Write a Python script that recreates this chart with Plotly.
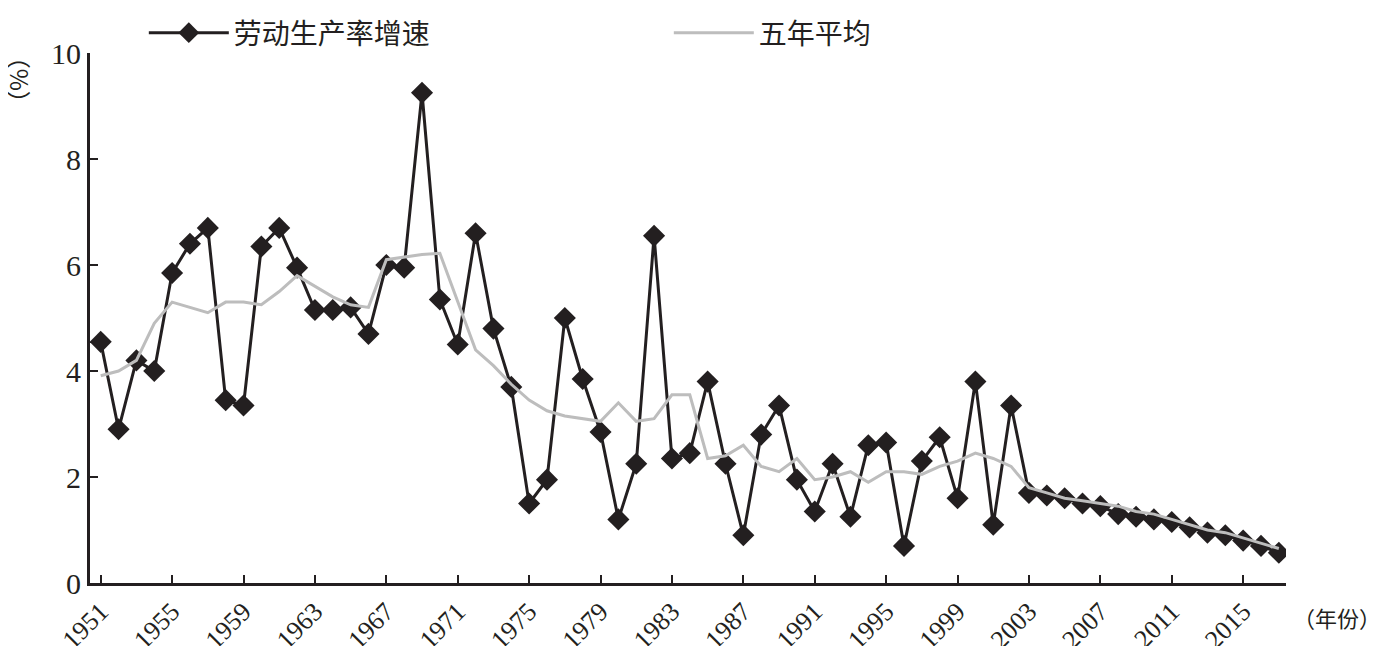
import plotly.graph_objects as go

years = list(range(1951, 2018))
growth = [4.55, 2.9, 4.2, 4.0, 5.85, 6.4, 6.7, 3.45, 3.35, 6.35,
          6.7, 5.95, 5.15, 5.15, 5.2, 4.7, 6.0, 5.95, 9.25, 5.35,
          4.5, 6.6, 4.8, 3.7, 1.5, 1.95, 5.0, 3.85, 2.85, 1.2,
          2.25, 6.55, 2.35, 2.45, 3.8, 2.25, 0.9, 2.8, 3.35, 1.95,
          1.35, 2.25, 1.25, 2.6, 2.65, 0.7, 2.3, 2.75, 1.6, 3.8,
          1.1, 3.35, 1.7, 1.65, 1.6, 1.5, 1.45, 1.3, 1.25, 1.2,
          1.15, 1.05, 0.95, 0.9, 0.8, 0.7, 0.57]
avg5 = [3.91, 4.0, 4.2, 4.9, 5.3, 5.2, 5.1, 5.3, 5.3, 5.25,
        5.5, 5.8, 5.6, 5.4, 5.25, 5.2, 6.1, 6.15, 6.2, 6.22,
        5.3, 4.4, 4.1, 3.75, 3.45, 3.25, 3.15, 3.1, 3.05, 3.4,
        3.05, 3.1, 3.55, 3.55, 2.35, 2.4, 2.6, 2.2, 2.1, 2.35,
        1.95, 2.0, 2.1, 1.9, 2.1, 2.1, 2.05, 2.2, 2.3, 2.45,
        2.35, 2.2, 1.8, 1.7, 1.6, 1.55, 1.5, 1.45, 1.35, 1.3,
        1.2, 1.1, 1.0, 0.95, 0.85, 0.75, 0.65]
tick_years = list(range(1951, 2016, 4))

serif = "Liberation Serif, Times New Roman, serif"

fig = go.Figure()
fig.add_trace(go.Scatter(x=years, y=growth, name="劳动生产率增速",
                         mode="lines+markers",
                         line=dict(color="#231f20", width=3),
                         marker=dict(symbol="diamond", size=17, color="#231f20")))
fig.add_trace(go.Scatter(x=years, y=avg5, name="五年平均", mode="lines",
                         line=dict(color="#bdbdbd", width=3)))

fig.update_layout(
    width=1388, height=646,
    margin=dict(l=82, r=110, t=45, b=71, autoexpand=False),
    plot_bgcolor="white", paper_bgcolor="white",
    font=dict(family=serif, size=30, color="#231f20"),
    legend=dict(orientation="h", x=0.045, xanchor="left", y=1.0, yref="container",
                yanchor="top", font=dict(size=28, family="Noto Sans CJK SC"),
                entrywidth=430, entrywidthmode="pixels", itemwidth=80),
    xaxis=dict(range=[1950.4, 2017.4], tickvals=tick_years, tickangle=-45,
               tickfont=dict(family=serif, size=26),
               showgrid=False, zeroline=False, showline=True, linecolor="#231f20",
               linewidth=3, ticks="inside", ticklen=8, tickwidth=2, tickcolor="#231f20"),
    yaxis=dict(range=[0, 10], tickvals=[0, 2, 4, 6, 8, 10], showgrid=False,
               tickfont=dict(family=serif, size=30),
               zeroline=False, showline=True, linecolor="#231f20", linewidth=3,
               ticks="inside", ticklen=8, tickwidth=2, tickcolor="#231f20"),
    annotations=[
        dict(text="（%）", xref="paper", yref="paper", x=-0.058, y=1.02,
             xanchor="center", yanchor="top", showarrow=False, textangle=90,
             font=dict(size=24, family="Noto Sans CJK SC")),
        dict(text="（年份）", xref="paper", yref="paper", x=1.004, y=-0.03,
             xanchor="left", yanchor="top", showarrow=False,
             font=dict(size=22, family="Noto Sans CJK SC")),
    ],
)
fig.write_html("out.html")
